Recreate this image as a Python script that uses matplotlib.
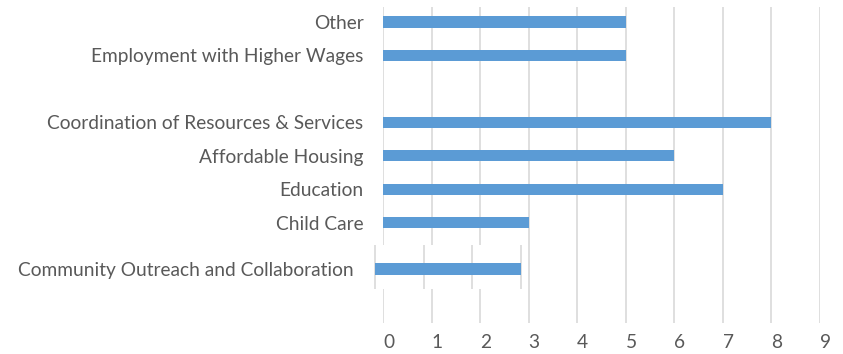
import numpy as np
import matplotlib
matplotlib.use('Agg')
import matplotlib.pyplot as plt
import matplotlib.transforms as mtransforms

# Survey responses per priority area (top to bottom, '' is an empty row)
categories = ['Other', 'Employment with Higher Wages', '',
              'Coordination of Resources & Services', 'Affordable Housing',
              'Education', 'Child Care']
counts = [5, 5, 0, 8, 6, 7, 3]

# Last row sits in its own pasted-in strip
extra_category = 'Community Outreach and Collaboration'
extra_count = 3

x_ticks = list(range(0, 10))

bar_color = '#5B9BD5'
grid_color = '#D9D9D9'
text_color = '#595959'

plt.rcParams['font.family'] = ['Lato', 'DejaVu Sans']

W, H = 843, 354
fig = plt.figure(figsize=(W / 100, H / 100), dpi=100)


def px_box(x0, y0, x1, y1):
    # pixel box (top-left origin) -> figure fraction rect
    return [x0 / W, 1 - y1 / H, (x1 - x0) / W, (y1 - y0) / H]


def style(ax):
    for s in ax.spines.values():
        s.set_visible(False)
    ax.tick_params(length=0, colors=text_color, labelsize=13.8)
    ax.xaxis.grid(True, color=grid_color, linewidth=1.2)
    ax.set_axisbelow(True)


# main chart
ax = fig.add_axes(px_box(383, 7, 820, 323))
style(ax)
y = np.arange(len(categories))
ax.barh(y, counts, height=0.34, color=bar_color)
ax.set_xlim(0, 9)
ax.set_ylim(9.0, -0.45)
ax.set_xticks(x_ticks)
ax.set_yticks(y[np.array(categories) != ''])
ax.set_yticklabels([c for c in categories if c])
ax.tick_params(axis='y', pad=14)
ax.tick_params(axis='x', pad=8)
shift = mtransforms.ScaledTranslation(4 / 72, 0, fig.dpi_scale_trans)
for lbl in ax.get_xticklabels():
    lbl.set_transform(lbl.get_transform() + shift)

# offset strip for the last row
unit = 437 / 9.0
ax2 = fig.add_axes(px_box(370, 245, 526, 289))
style(ax2)
ax2.set_facecolor('white')
ax2.barh([0], [extra_count], height=0.36, color=bar_color)
ax2.set_xlim(-5 / unit, 151 / unit)
ax2.set_ylim(0.6, -0.72)
ax2.set_xticks(x_ticks[:4])
ax2.set_xticklabels([])
ax2.set_yticks([0])
ax2.set_yticklabels([extra_category])
ax2.tick_params(axis='y', pad=12)

fig.savefig('out.png', dpi=100, facecolor='white')
